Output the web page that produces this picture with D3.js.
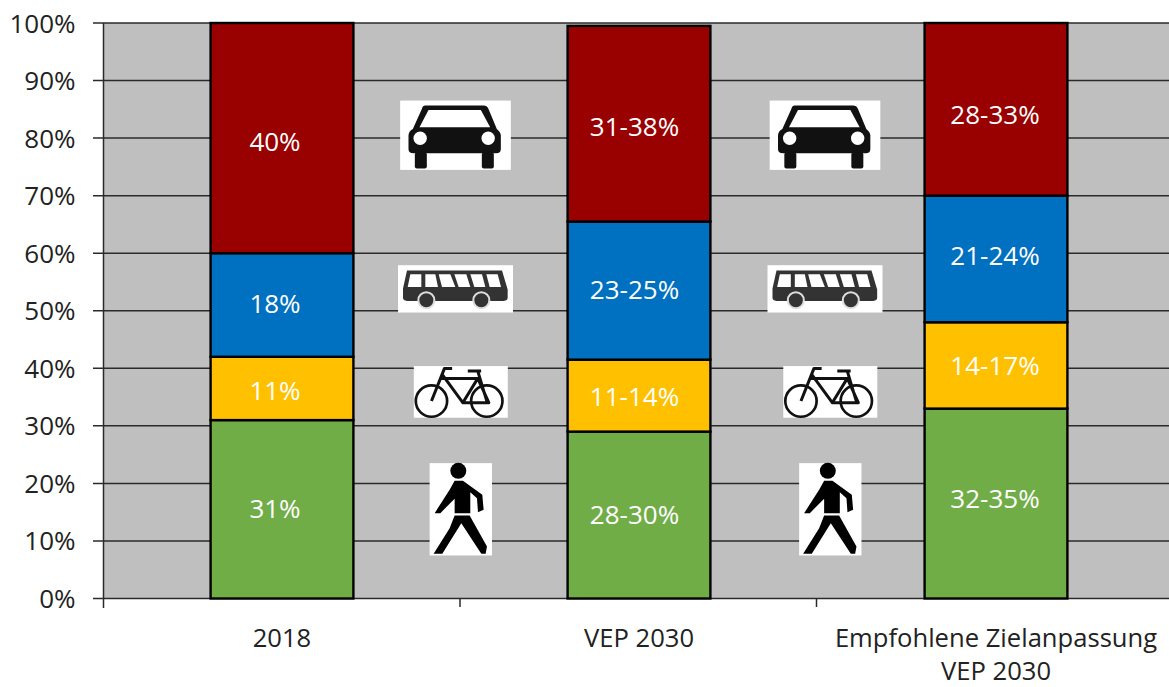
<!DOCTYPE html>
<html><head><meta charset="utf-8">
<script src="https://cdn.jsdelivr.net/npm/d3@7"></script>
<style>html,body{margin:0;padding:0;background:#fff}svg{display:block}text{font-family:"Open Sans",sans-serif}</style>
</head><body><svg id="c" width="1169" height="687"></svg>
<script>
const categories = ["2018", "VEP 2030", "Empfohlene Zielanpassung|VEP 2030"];
const modes = ["Fuß", "Rad", "ÖPNV", "Auto"];
const walk = [31, 29, 33];
const bike = [11, 12.5, 15];
const transit = [18, 24, 22];
const car = [40, 34, 30];
const walkLabels = ["31%", "28-30%", "32-35%"];
const bikeLabels = ["11%", "11-14%", "14-17%"];
const transitLabels = ["18%", "23-25%", "21-24%"];
const carLabels = ["40%", "31-38%", "28-33%"];
const yTicks = [0,10,20,30,40,50,60,70,80,90,100];

const colors = ["#70AD47", "#FFC000", "#0070C0", "#990000"];
const svg = d3.select("#c");
const M = {l:103.5, r:1174.5, t:23, b:598.5};
const x = d3.scaleBand().domain(categories).range([M.l, M.r]).paddingInner(0.6).paddingOuter(0.3);
const y = d3.scaleLinear().domain([0,100]).range([M.b, M.t]);
const step = x.step();
const FS = 26;

svg.append("rect").attr("x",M.l).attr("y",M.t).attr("width",M.r-M.l).attr("height",M.b-M.t).attr("fill","#BFBFBF");

// grid and axes
svg.append("g").selectAll("line").data(yTicks).join("line")
  .attr("x1",93).attr("x2",M.r).attr("y1",d=>y(d)).attr("y2",d=>y(d))
  .attr("stroke","#2a2a2a").attr("stroke-width",1.5);
svg.append("g").selectAll("text").data(yTicks).join("text")
  .attr("x",75.5).attr("y",d=>y(d)+9.5).attr("text-anchor","end")
  .attr("font-size",FS).attr("fill","#222").text(d=>d+"%");
svg.append("line").attr("x1",M.l).attr("x2",M.l).attr("y1",M.t).attr("y2",608).attr("stroke","#2a2a2a").attr("stroke-width",1.5);
categories.forEach((c,i)=>{
  if(i<1) return;
  const t = M.l + step*i - 0.5*i;
  svg.append("line").attr("x1",t).attr("x2",t).attr("y1",M.b).attr("y2",607).attr("stroke","#2a2a2a").attr("stroke-width",1.5);
});

// stacked bars
const rows = [walk,bike,transit,car];
const labels = [walkLabels,bikeLabels,transitLabels,carLabels];
const nudge = [[0,0,5],[-3,-1,-1],[1,1,3],[-4,-3,-6]];
const nudgeX = [-7,-4.5,-1];
categories.forEach((c,i)=>{
  let base = 0;
  rows.forEach((r,k)=>{
    const top = base + r[i];
    svg.append("rect").attr("x",x(c)).attr("width",x.bandwidth())
      .attr("y",y(top)).attr("height",y(base)-y(top))
      .attr("fill",colors[k]).attr("stroke","#000").attr("stroke-width",2.4);
    svg.append("text").attr("x",x(c)+x.bandwidth()/2+nudgeX[i])
      .attr("y",(y(top)+y(base))/2+9-nudge[k][i]*-1*-1)
      .attr("text-anchor","middle").attr("font-size",FS).attr("fill","#fff").text(labels[k][i]);
    base = top;
  });
  const lines = c.split("|");
  const cx = x(c)+x.bandwidth()/2;
  lines.forEach((l,j)=>{
    svg.append("text").attr("x",cx).attr("y",647+j*33).attr("text-anchor","middle")
      .attr("font-size",25.6).attr("fill","#222").text(l);
  });
});

// pictograms, drawn in their own box and placed between the bars
const icons = {
 car:{w:332,h:208,ox:30,oy:30,level:80.5,shift:0,draw(g){
   g.append("path").attr("d","M105 45H280Q290 45 295 55L320 115Q332 125 332 135V175Q332 188 318 188H70Q55 188 55 175V135Q55 122 68 115L95 55Q98 45 105 45Z").attr("fill","#111");
   g.append("path").attr("d","M115 58H272L300 110H88Z").attr("fill","#fff");
   g.append("circle").attr("cx",90).attr("cy",143).attr("r",20).attr("fill","#fff");
   g.append("circle").attr("cx",294).attr("cy",143).attr("r",20).attr("fill","#fff");
   g.append("rect").attr("x",74).attr("y",186).attr("width",36).attr("height",48).attr("rx",6).attr("fill","#111");
   g.append("rect").attr("x",275).attr("y",186).attr("width",36).attr("height",48).attr("rx",6).attr("fill","#111");
 }},
 bus:{w:345,h:142,ox:23,oy:525,level:53.8,shift:0,draw(g){
   g.append("path").attr("d","M50 541H335L352 598V622Q352 632 340 632H50Q38 632 38 622V595Z").attr("fill","#333");
   ["M60 552H93V590H52Z","M105 552H135L143 590H105Z","M145 552H180L195 590H155Z","M192 552H228L240 590H205Z","M240 552H275L285 590H252Z","M288 552H322L332 590H298Z"]
     .forEach(d=>g.append("path").attr("d",d).attr("fill","#fff"));
   [108,273].forEach(cx=>g.append("circle").attr("cx",cx).attr("cy",630).attr("r",24).attr("fill","#333").attr("stroke","#ddd").attr("stroke-width",6));
 }},
 bike:{w:282,h:155,ox:43,oy:35,level:35.9,shift:5.3,draw(g){
   [96,262].forEach(cx=>g.append("circle").attr("cx",cx).attr("cy",140).attr("r",47).attr("fill","none").attr("stroke","#111").attr("stroke-width",8));
   g.append("path").attr("d","M158 42H135L96 140M125 72H235L190 145H268L235 72M128 60L190 145M205 50H245M235 50L262 140")
     .attr("fill","none").attr("stroke","#111").attr("stroke-width",9).attr("stroke-linejoin","round");
 }},
 ped:{w:187,h:277,ox:90,oy:325,level:15.5,shift:5.3,draw(g){
   g.append("circle").attr("cx",176).attr("cy",348).attr("r",24).attr("fill","#000");
   g.append("path").attr("d","M165 378H190L248 420L252 465L235 472L232 430L212 412V475H165V432L122 475H105L150 405Z").attr("fill","#000");
   g.append("path").attr("d","M165 482H210L262 575L258 597H245L185 505L128 597H102L150 520Z").attr("fill","#000");
 }}
};
const iconCols = [455.5, 825];
iconCols.forEach(cx=>{
  Object.values(icons).forEach(ic=>{
    const W=ic.w/3,H=ic.h/3;
    const g = svg.append("g").attr("transform",`translate(${cx+ic.shift-W/2},${y(ic.level)-H/2}) scale(${1/3}) translate(${-ic.ox},${-ic.oy})`);
    g.append("rect").attr("x",ic.ox).attr("y",ic.oy).attr("width",ic.w).attr("height",ic.h).attr("fill","#fff");
    ic.draw(g);
  });
});
</script></body></html>
